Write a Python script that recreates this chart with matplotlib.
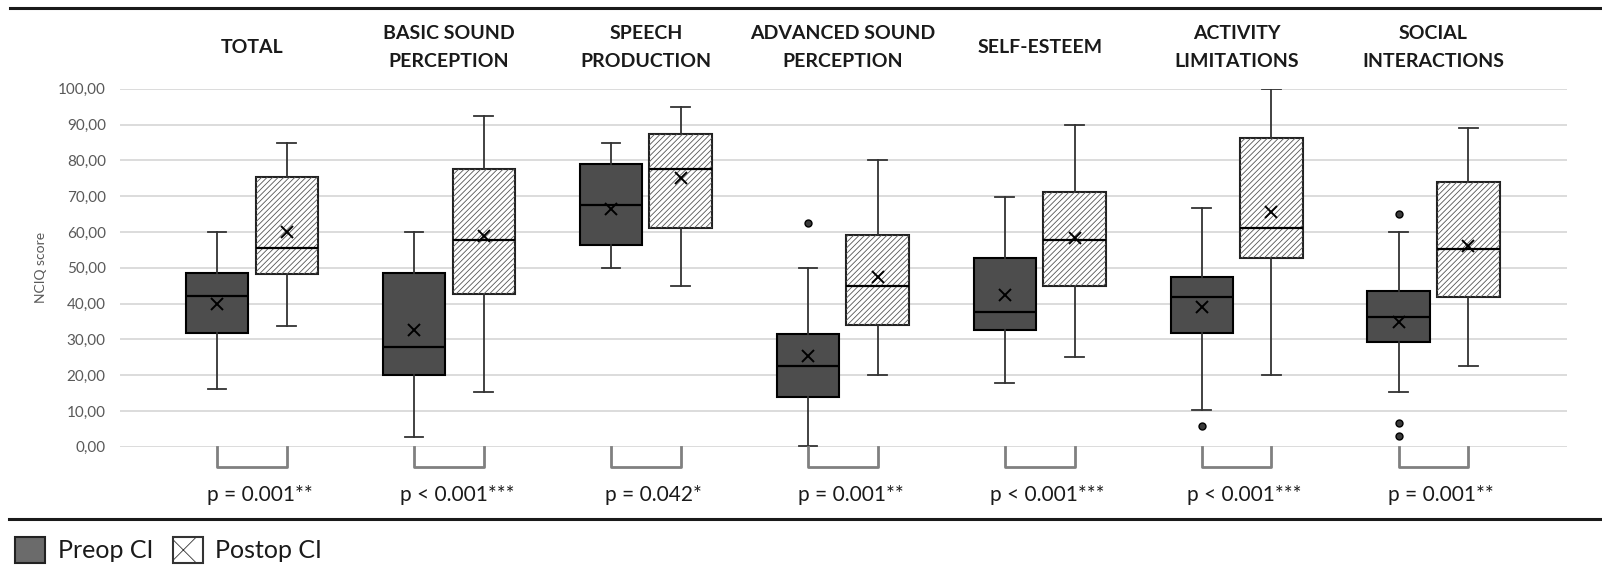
import numpy as np
import matplotlib.pyplot as plt
from matplotlib.lines import Line2D
from matplotlib.patches import Rectangle, Patch

plt.rcParams['font.family'] = ['Lato', 'DejaVu Sans']
plt.rcParams['hatch.linewidth'] = 0.6

categories = ['TOTAL', 'BASIC SOUND\nPERCEPTION', 'SPEECH\nPRODUCTION',
              'ADVANCED SOUND\nPERCEPTION', 'SELF-ESTEEM', 'ACTIVITY\nLIMITATIONS',
              'SOCIAL\nINTERACTIONS']

# Preop CI
pre_low = [16.0, 2.7, 50.0, 0.3, 17.7, 10.2, 15.2]
pre_q1 = [31.8, 20.0, 56.3, 14.0, 32.6, 31.8, 29.3]
pre_med = [42.1, 27.8, 67.5, 22.5, 37.5, 41.9, 36.1]
pre_q3 = [48.4, 48.6, 78.9, 31.5, 52.6, 47.5, 43.5]
pre_high = [60.0, 60.0, 84.9, 50.0, 69.8, 66.8, 60.0]
pre_mean = [40.0, 32.6, 66.4, 25.3, 42.5, 38.9, 34.9]
pre_fliers = [[], [], [], [62.6], [], [5.9], [65.1, 6.5, 3.0]]

# Postop CI
post_low = [33.8, 15.2, 45.0, 20.0, 25.0, 20.0, 22.5]
post_q1 = [48.2, 42.6, 61.2, 34.0, 45.0, 52.6, 41.9]
post_med = [55.4, 57.7, 77.5, 45.0, 57.7, 61.0, 55.1]
post_q3 = [75.4, 77.5, 87.3, 59.1, 71.1, 86.3, 73.9]
post_high = [84.9, 92.4, 94.8, 80.0, 89.9, 100.0, 89.1]
post_mean = [60.0, 58.9, 75.0, 47.5, 58.4, 65.6, 56.1]
post_fliers = [[], [], [], [], [], [], []]

p_values = ['p = 0.001**', 'p < 0.001***', 'p = 0.042*', 'p = 0.001**',
            'p < 0.001***', 'p < 0.001***', 'p = 0.001**']

def make_stats(low, q1, med, q3, high, mean, fliers):
    out = []
    for i in range(len(low)):
        out.append(dict(whislo=low[i], q1=q1[i], med=med[i], q3=q3[i],
                        whishi=high[i], mean=mean[i], fliers=fliers[i]))
    return out

pre_stats = make_stats(pre_low, pre_q1, pre_med, pre_q3, pre_high, pre_mean, pre_fliers)
post_stats = make_stats(post_low, post_q1, post_med, post_q3, post_high, post_mean, post_fliers)

fig = plt.figure(figsize=(16.02, 5.69), dpi=100)
ax = fig.add_axes([0.0747, 0.2149, 0.9037, 0.6292])

x = np.arange(len(categories))
off = 0.177
bw = 0.317

common = dict(widths=bw, patch_artist=True, showmeans=True, capwidths=0.095,
              whiskerprops=dict(color='#333333', lw=1.3),
              capprops=dict(color='#333333', lw=1.3),
              medianprops=dict(color='black', lw=1.6, zorder=3),
              meanprops=dict(marker='x', markeredgecolor='black', markersize=9,
                             markeredgewidth=1.4, zorder=4),
              flierprops=dict(marker='o', markerfacecolor='#3a3a3a',
                              markeredgecolor='black', markersize=5))

ax.bxp(pre_stats, positions=x - off,
       boxprops=dict(facecolor='#4d4d4d', edgecolor='black', lw=1.5), **common)
ax.bxp(post_stats, positions=x + off,
       boxprops=dict(facecolor='white', edgecolor='#222222', lw=1.5), **common)

# hatch on the postop boxes
for i in range(len(categories)):
    ax.add_patch(Rectangle((x[i] + off - bw / 2, post_q1[i]), bw, post_q3[i] - post_q1[i],
                           facecolor='none', edgecolor='#555555', lw=0,
                           hatch='//////', zorder=2.05))

ax.set_xlim(-0.672, 6.68)
ax.set_ylim(0, 100)
ax.set_yticks(range(0, 101, 10))
ax.set_yticklabels(['%d,00' % v for v in range(0, 101, 10)], color='#595959', fontsize=11)
ax.tick_params(axis='y', length=0, pad=10)
ax.set_xticks([])
ax.yaxis.grid(True, color='#d9d9d9', lw=1.3)
ax.set_axisbelow(True)
for s in ax.spines.values():
    s.set_visible(False)
ax.set_ylabel('NCIQ score', color='#595959', fontsize=10, labelpad=8)

# category titles, brackets, p-values
for i, name in enumerate(categories):
    ax.text(x[i], 111.5, name, ha='center', va='center', fontsize=14,
            fontweight='bold', color='#1a1a1a', linespacing=1.85, clip_on=False)
    ax.plot([x[i] - off, x[i] - off, x[i] + off, x[i] + off], [0, -5.6, -5.6, 0],
            color='#808080', lw=2, clip_on=False, solid_joinstyle='round')
    ax.text(x[i] + 0.04, -13.5, p_values[i], ha='center', va='center',
            fontsize=15, color='#1a1a1a', clip_on=False)

fig.add_artist(Line2D([10 / 1602, 1], [1 - 7.5 / 569] * 2, color='#1a1a1a', lw=2.2))
fig.add_artist(Line2D([9 / 1602, 1], [1 - 518.7 / 569] * 2, color='#1a1a1a', lw=2.2))

handles = [Patch(facecolor='#6b6b6b', edgecolor='#222222', lw=1.5),
           Patch(facecolor='white', edgecolor='#333333', lw=1.5, hatch='x')]
fig.legend(handles, ['Preop CI', 'Postop CI'], loc='lower left',
           bbox_to_anchor=(0.0, -0.015), ncol=2, frameon=False, fontsize=18,
           handlelength=1.2, handleheight=1.2, handletextpad=0.5,
           columnspacing=0.8, borderaxespad=0.2, labelcolor='#1a1a1a')

fig.savefig('out.png', dpi=100)
